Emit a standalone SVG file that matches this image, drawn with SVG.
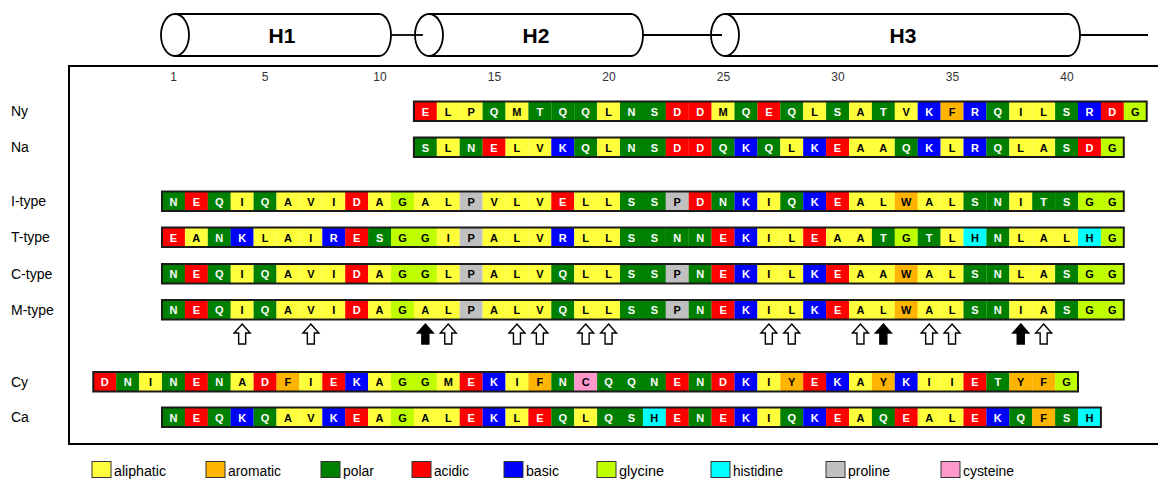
<svg xmlns="http://www.w3.org/2000/svg" xmlns:xlink="http://www.w3.org/1999/xlink" width="1158" height="479" viewBox="0 0 1158 479">
<style>
text{font-family:"Liberation Sans",Arial,sans-serif}
.cells rect{height:19.5px}
.cells text{font-size:11px;font-weight:bold;text-anchor:middle}
.y{fill:#FFFF3C}.o{fill:#FFB400}.g{fill:#008000}.r{fill:#FF0000}.b{fill:#0000FF}.l{fill:#C0FF00}.c{fill:#00FFFF}.p{fill:#C0C0C0}.k{fill:#FF99CC}
.w{fill:#FFFFFF}.d{fill:#000000}
.outline{fill:none;stroke:#1a1a1a;stroke-width:2}
.lab{font-size:14px;fill:#000}
.num{font-size:12px;fill:#333;text-anchor:middle}
.hx{fill:#fff;stroke:#000;stroke-width:1.8}
.hl{font-size:21px;font-weight:bold;text-anchor:middle}
.conn{stroke:#000;stroke-width:1.8;fill:none}
.ao{fill:#fff;stroke:#000;stroke-width:1.4}
.af{fill:#000;stroke:#000;stroke-width:1.4}
.sw{stroke:#333;stroke-width:1}
.lg{font-size:14px;fill:#000}
</style>
<defs>
<path id="arr" d="M0,0 L8,9 L3.5,9 L3.5,20 L-3.5,20 L-3.5,9 L-8,9 Z"/>
</defs>
<rect width="1158" height="479" fill="#fff"/>

<g id="frame"><path d="M1158,66 H69 V444 H1158" fill="none" stroke="#000" stroke-width="2"/></g>

<g id="connectors">
<line class="conn" x1="391" y1="35" x2="423" y2="35"/>
<line class="conn" x1="643" y1="35" x2="722" y2="35"/>
<line class="conn" x1="1080" y1="35" x2="1148" y2="35"/>
</g>

<g id="helix-H1">
<path class="hx" d="M175,14 H379 A12,21 0 0 1 379,56 H175"/>
<ellipse class="hx" cx="175" cy="35" rx="14" ry="21"/>
<text class="hl" x="282" y="43">H1</text>
</g>
<g id="helix-H2">
<path class="hx" d="M429,14 H631 A12,21 0 0 1 631,56 H429"/>
<ellipse class="hx" cx="429" cy="35" rx="14" ry="21" fill-opacity="0"/>
<text class="hl" x="536" y="43">H2</text>
</g>
<g id="helix-H3">
<path class="hx" d="M725,14 H1068 A12,21 0 0 1 1068,56 H725"/>
<ellipse class="hx" cx="725" cy="35" rx="14" ry="21" fill-opacity="0"/>
<text class="hl" x="903" y="43">H3</text>
</g>

<g id="positions">
<text class="num" x="173.5" y="81">1</text>
<text class="num" x="265" y="81">5</text>
<text class="num" x="380" y="81">10</text>
<text class="num" x="494.5" y="81">15</text>
<text class="num" x="609" y="81">20</text>
<text class="num" x="723.5" y="81">25</text>
<text class="num" x="838" y="81">30</text>
<text class="num" x="952.5" y="81">35</text>
<text class="num" x="1067" y="81">40</text>
</g>

<g id="row-Ny">
<text class="lab" x="11" y="116">Ny</text>
<g class="cells" transform="translate(413.9,101.5)">
<rect x="0" width="23" class="r"/><rect x="22.9" width="23" class="y"/><rect x="45.8" width="23" class="y"/><rect x="68.7" width="23" class="g"/><rect x="91.6" width="23" class="y"/><rect x="114.5" width="23" class="g"/><rect x="137.4" width="23" class="g"/><rect x="160.3" width="23" class="g"/><rect x="183.2" width="23" class="y"/><rect x="206.1" width="23" class="g"/><rect x="229" width="23" class="g"/><rect x="251.9" width="23" class="r"/><rect x="274.8" width="23" class="r"/><rect x="297.7" width="23" class="y"/><rect x="320.6" width="23" class="g"/><rect x="343.5" width="23" class="r"/><rect x="366.4" width="23" class="g"/><rect x="389.3" width="23" class="y"/><rect x="412.2" width="23" class="g"/><rect x="435.1" width="23" class="y"/><rect x="458" width="23" class="g"/><rect x="480.9" width="23" class="y"/><rect x="503.8" width="23" class="b"/><rect x="526.7" width="23" class="o"/><rect x="549.6" width="23" class="b"/><rect x="572.5" width="23" class="g"/><rect x="595.4" width="23" class="y"/><rect x="618.3" width="23" class="y"/><rect x="641.2" width="23" class="g"/><rect x="664.1" width="23" class="b"/><rect x="687" width="23" class="r"/><rect x="709.9" width="22.9" class="l"/>
<text x="11.45" y="14" class="w">E</text><text x="34.35" y="14" class="d">L</text><text x="57.25" y="14" class="d">P</text><text x="80.15" y="14" class="w">Q</text><text x="103.05" y="14" class="d">M</text><text x="125.95" y="14" class="w">T</text><text x="148.85" y="14" class="w">Q</text><text x="171.75" y="14" class="w">Q</text><text x="194.65" y="14" class="d">L</text><text x="217.55" y="14" class="w">N</text><text x="240.45" y="14" class="w">S</text><text x="263.35" y="14" class="w">D</text><text x="286.25" y="14" class="w">D</text><text x="309.15" y="14" class="d">M</text><text x="332.05" y="14" class="w">Q</text><text x="354.95" y="14" class="w">E</text><text x="377.85" y="14" class="w">Q</text><text x="400.75" y="14" class="d">L</text><text x="423.65" y="14" class="w">S</text><text x="446.55" y="14" class="d">A</text><text x="469.45" y="14" class="w">T</text><text x="492.35" y="14" class="d">V</text><text x="515.25" y="14" class="w">K</text><text x="538.15" y="14" class="d">F</text><text x="561.05" y="14" class="w">R</text><text x="583.95" y="14" class="w">Q</text><text x="606.85" y="14" class="d">I</text><text x="629.75" y="14" class="d">L</text><text x="652.65" y="14" class="w">S</text><text x="675.55" y="14" class="w">R</text><text x="698.45" y="14" class="w">D</text><text x="721.35" y="14" class="d">G</text>
<rect class="outline" x="0" y="0" width="732.8" height="19.5"/>
</g>
</g>

<g id="row-Na">
<text class="lab" x="11" y="152">Na</text>
<g class="cells" transform="translate(413.9,137.5)">
<rect x="0" width="23" class="g"/><rect x="22.9" width="23" class="y"/><rect x="45.8" width="23" class="g"/><rect x="68.7" width="23" class="r"/><rect x="91.6" width="23" class="y"/><rect x="114.5" width="23" class="y"/><rect x="137.4" width="23" class="b"/><rect x="160.3" width="23" class="g"/><rect x="183.2" width="23" class="y"/><rect x="206.1" width="23" class="g"/><rect x="229" width="23" class="g"/><rect x="251.9" width="23" class="r"/><rect x="274.8" width="23" class="r"/><rect x="297.7" width="23" class="g"/><rect x="320.6" width="23" class="b"/><rect x="343.5" width="23" class="g"/><rect x="366.4" width="23" class="y"/><rect x="389.3" width="23" class="b"/><rect x="412.2" width="23" class="r"/><rect x="435.1" width="23" class="y"/><rect x="458" width="23" class="y"/><rect x="480.9" width="23" class="g"/><rect x="503.8" width="23" class="b"/><rect x="526.7" width="23" class="y"/><rect x="549.6" width="23" class="b"/><rect x="572.5" width="23" class="g"/><rect x="595.4" width="23" class="y"/><rect x="618.3" width="23" class="y"/><rect x="641.2" width="23" class="g"/><rect x="664.1" width="23" class="r"/><rect x="687" width="22.9" class="l"/>
<text x="11.45" y="14" class="w">S</text><text x="34.35" y="14" class="d">L</text><text x="57.25" y="14" class="w">N</text><text x="80.15" y="14" class="w">E</text><text x="103.05" y="14" class="d">L</text><text x="125.95" y="14" class="d">V</text><text x="148.85" y="14" class="w">K</text><text x="171.75" y="14" class="w">Q</text><text x="194.65" y="14" class="d">L</text><text x="217.55" y="14" class="w">N</text><text x="240.45" y="14" class="w">S</text><text x="263.35" y="14" class="w">D</text><text x="286.25" y="14" class="w">D</text><text x="309.15" y="14" class="w">Q</text><text x="332.05" y="14" class="w">K</text><text x="354.95" y="14" class="w">Q</text><text x="377.85" y="14" class="d">L</text><text x="400.75" y="14" class="w">K</text><text x="423.65" y="14" class="w">E</text><text x="446.55" y="14" class="d">A</text><text x="469.45" y="14" class="d">A</text><text x="492.35" y="14" class="w">Q</text><text x="515.25" y="14" class="w">K</text><text x="538.15" y="14" class="d">L</text><text x="561.05" y="14" class="w">R</text><text x="583.95" y="14" class="w">Q</text><text x="606.85" y="14" class="d">L</text><text x="629.75" y="14" class="d">A</text><text x="652.65" y="14" class="w">S</text><text x="675.55" y="14" class="w">D</text><text x="698.45" y="14" class="d">G</text>
<rect class="outline" x="0" y="0" width="709.9" height="19.5"/>
</g>
</g>

<g id="row-I-type">
<text class="lab" x="11" y="206">I-type</text>
<g class="cells" transform="translate(162,191.5)">
<rect x="0" width="23" class="g"/><rect x="22.9" width="23" class="r"/><rect x="45.8" width="23" class="g"/><rect x="68.7" width="23" class="y"/><rect x="91.6" width="23" class="g"/><rect x="114.5" width="23" class="y"/><rect x="137.4" width="23" class="y"/><rect x="160.3" width="23" class="y"/><rect x="183.2" width="23" class="r"/><rect x="206.1" width="23" class="y"/><rect x="229" width="23" class="l"/><rect x="251.9" width="23" class="y"/><rect x="274.8" width="23" class="y"/><rect x="297.7" width="23" class="p"/><rect x="320.6" width="23" class="y"/><rect x="343.5" width="23" class="y"/><rect x="366.4" width="23" class="y"/><rect x="389.3" width="23" class="r"/><rect x="412.2" width="23" class="y"/><rect x="435.1" width="23" class="y"/><rect x="458" width="23" class="g"/><rect x="480.9" width="23" class="g"/><rect x="503.8" width="23" class="p"/><rect x="526.7" width="23" class="r"/><rect x="549.6" width="23" class="g"/><rect x="572.5" width="23" class="b"/><rect x="595.4" width="23" class="y"/><rect x="618.3" width="23" class="g"/><rect x="641.2" width="23" class="b"/><rect x="664.1" width="23" class="r"/><rect x="687" width="23" class="y"/><rect x="709.9" width="23" class="y"/><rect x="732.8" width="23" class="o"/><rect x="755.7" width="23" class="y"/><rect x="778.6" width="23" class="y"/><rect x="801.5" width="23" class="g"/><rect x="824.4" width="23" class="g"/><rect x="847.3" width="23" class="y"/><rect x="870.2" width="23" class="g"/><rect x="893.1" width="23" class="g"/><rect x="916" width="23" class="l"/><rect x="938.9" width="22.9" class="l"/>
<text x="11.45" y="14" class="w">N</text><text x="34.35" y="14" class="w">E</text><text x="57.25" y="14" class="w">Q</text><text x="80.15" y="14" class="d">I</text><text x="103.05" y="14" class="w">Q</text><text x="125.95" y="14" class="d">A</text><text x="148.85" y="14" class="d">V</text><text x="171.75" y="14" class="d">I</text><text x="194.65" y="14" class="w">D</text><text x="217.55" y="14" class="d">A</text><text x="240.45" y="14" class="d">G</text><text x="263.35" y="14" class="d">A</text><text x="286.25" y="14" class="d">L</text><text x="309.15" y="14" class="d">P</text><text x="332.05" y="14" class="d">V</text><text x="354.95" y="14" class="d">L</text><text x="377.85" y="14" class="d">V</text><text x="400.75" y="14" class="w">E</text><text x="423.65" y="14" class="d">L</text><text x="446.55" y="14" class="d">L</text><text x="469.45" y="14" class="w">S</text><text x="492.35" y="14" class="w">S</text><text x="515.25" y="14" class="d">P</text><text x="538.15" y="14" class="w">D</text><text x="561.05" y="14" class="w">N</text><text x="583.95" y="14" class="w">K</text><text x="606.85" y="14" class="d">I</text><text x="629.75" y="14" class="w">Q</text><text x="652.65" y="14" class="w">K</text><text x="675.55" y="14" class="w">E</text><text x="698.45" y="14" class="d">A</text><text x="721.35" y="14" class="d">L</text><text x="744.25" y="14" class="d">W</text><text x="767.15" y="14" class="d">A</text><text x="790.05" y="14" class="d">L</text><text x="812.95" y="14" class="w">S</text><text x="835.85" y="14" class="w">N</text><text x="858.75" y="14" class="d">I</text><text x="881.65" y="14" class="w">T</text><text x="904.55" y="14" class="w">S</text><text x="927.45" y="14" class="d">G</text><text x="950.35" y="14" class="d">G</text>
<rect class="outline" x="0" y="0" width="961.8" height="19.5"/>
</g>
</g>

<g id="row-T-type">
<text class="lab" x="11" y="242">T-type</text>
<g class="cells" transform="translate(162,227.5)">
<rect x="0" width="23" class="r"/><rect x="22.9" width="23" class="y"/><rect x="45.8" width="23" class="g"/><rect x="68.7" width="23" class="b"/><rect x="91.6" width="23" class="y"/><rect x="114.5" width="23" class="y"/><rect x="137.4" width="23" class="y"/><rect x="160.3" width="23" class="b"/><rect x="183.2" width="23" class="r"/><rect x="206.1" width="23" class="g"/><rect x="229" width="23" class="l"/><rect x="251.9" width="23" class="l"/><rect x="274.8" width="23" class="y"/><rect x="297.7" width="23" class="p"/><rect x="320.6" width="23" class="y"/><rect x="343.5" width="23" class="y"/><rect x="366.4" width="23" class="y"/><rect x="389.3" width="23" class="b"/><rect x="412.2" width="23" class="y"/><rect x="435.1" width="23" class="y"/><rect x="458" width="23" class="g"/><rect x="480.9" width="23" class="g"/><rect x="503.8" width="23" class="g"/><rect x="526.7" width="23" class="g"/><rect x="549.6" width="23" class="r"/><rect x="572.5" width="23" class="b"/><rect x="595.4" width="23" class="y"/><rect x="618.3" width="23" class="y"/><rect x="641.2" width="23" class="r"/><rect x="664.1" width="23" class="y"/><rect x="687" width="23" class="y"/><rect x="709.9" width="23" class="g"/><rect x="732.8" width="23" class="l"/><rect x="755.7" width="23" class="g"/><rect x="778.6" width="23" class="y"/><rect x="801.5" width="23" class="c"/><rect x="824.4" width="23" class="g"/><rect x="847.3" width="23" class="y"/><rect x="870.2" width="23" class="y"/><rect x="893.1" width="23" class="y"/><rect x="916" width="23" class="c"/><rect x="938.9" width="22.9" class="l"/>
<text x="11.45" y="14" class="w">E</text><text x="34.35" y="14" class="d">A</text><text x="57.25" y="14" class="w">N</text><text x="80.15" y="14" class="w">K</text><text x="103.05" y="14" class="d">L</text><text x="125.95" y="14" class="d">A</text><text x="148.85" y="14" class="d">I</text><text x="171.75" y="14" class="w">R</text><text x="194.65" y="14" class="w">E</text><text x="217.55" y="14" class="w">S</text><text x="240.45" y="14" class="d">G</text><text x="263.35" y="14" class="d">G</text><text x="286.25" y="14" class="d">I</text><text x="309.15" y="14" class="d">P</text><text x="332.05" y="14" class="d">A</text><text x="354.95" y="14" class="d">L</text><text x="377.85" y="14" class="d">V</text><text x="400.75" y="14" class="w">R</text><text x="423.65" y="14" class="d">L</text><text x="446.55" y="14" class="d">L</text><text x="469.45" y="14" class="w">S</text><text x="492.35" y="14" class="w">S</text><text x="515.25" y="14" class="w">N</text><text x="538.15" y="14" class="w">N</text><text x="561.05" y="14" class="w">E</text><text x="583.95" y="14" class="w">K</text><text x="606.85" y="14" class="d">I</text><text x="629.75" y="14" class="d">L</text><text x="652.65" y="14" class="w">E</text><text x="675.55" y="14" class="d">A</text><text x="698.45" y="14" class="d">A</text><text x="721.35" y="14" class="w">T</text><text x="744.25" y="14" class="d">G</text><text x="767.15" y="14" class="w">T</text><text x="790.05" y="14" class="d">L</text><text x="812.95" y="14" class="d">H</text><text x="835.85" y="14" class="w">N</text><text x="858.75" y="14" class="d">L</text><text x="881.65" y="14" class="d">A</text><text x="904.55" y="14" class="d">L</text><text x="927.45" y="14" class="d">H</text><text x="950.35" y="14" class="d">G</text>
<rect class="outline" x="0" y="0" width="961.8" height="19.5"/>
</g>
</g>

<g id="row-C-type">
<text class="lab" x="11" y="278.5">C-type</text>
<g class="cells" transform="translate(162,264)">
<rect x="0" width="23" class="g"/><rect x="22.9" width="23" class="r"/><rect x="45.8" width="23" class="g"/><rect x="68.7" width="23" class="y"/><rect x="91.6" width="23" class="g"/><rect x="114.5" width="23" class="y"/><rect x="137.4" width="23" class="y"/><rect x="160.3" width="23" class="y"/><rect x="183.2" width="23" class="r"/><rect x="206.1" width="23" class="y"/><rect x="229" width="23" class="l"/><rect x="251.9" width="23" class="l"/><rect x="274.8" width="23" class="y"/><rect x="297.7" width="23" class="p"/><rect x="320.6" width="23" class="y"/><rect x="343.5" width="23" class="y"/><rect x="366.4" width="23" class="y"/><rect x="389.3" width="23" class="g"/><rect x="412.2" width="23" class="y"/><rect x="435.1" width="23" class="y"/><rect x="458" width="23" class="g"/><rect x="480.9" width="23" class="g"/><rect x="503.8" width="23" class="p"/><rect x="526.7" width="23" class="g"/><rect x="549.6" width="23" class="r"/><rect x="572.5" width="23" class="b"/><rect x="595.4" width="23" class="y"/><rect x="618.3" width="23" class="y"/><rect x="641.2" width="23" class="b"/><rect x="664.1" width="23" class="r"/><rect x="687" width="23" class="y"/><rect x="709.9" width="23" class="y"/><rect x="732.8" width="23" class="o"/><rect x="755.7" width="23" class="y"/><rect x="778.6" width="23" class="y"/><rect x="801.5" width="23" class="g"/><rect x="824.4" width="23" class="g"/><rect x="847.3" width="23" class="y"/><rect x="870.2" width="23" class="y"/><rect x="893.1" width="23" class="g"/><rect x="916" width="23" class="l"/><rect x="938.9" width="22.9" class="l"/>
<text x="11.45" y="14" class="w">N</text><text x="34.35" y="14" class="w">E</text><text x="57.25" y="14" class="w">Q</text><text x="80.15" y="14" class="d">I</text><text x="103.05" y="14" class="w">Q</text><text x="125.95" y="14" class="d">A</text><text x="148.85" y="14" class="d">V</text><text x="171.75" y="14" class="d">I</text><text x="194.65" y="14" class="w">D</text><text x="217.55" y="14" class="d">A</text><text x="240.45" y="14" class="d">G</text><text x="263.35" y="14" class="d">G</text><text x="286.25" y="14" class="d">L</text><text x="309.15" y="14" class="d">P</text><text x="332.05" y="14" class="d">A</text><text x="354.95" y="14" class="d">L</text><text x="377.85" y="14" class="d">V</text><text x="400.75" y="14" class="w">Q</text><text x="423.65" y="14" class="d">L</text><text x="446.55" y="14" class="d">L</text><text x="469.45" y="14" class="w">S</text><text x="492.35" y="14" class="w">S</text><text x="515.25" y="14" class="d">P</text><text x="538.15" y="14" class="w">N</text><text x="561.05" y="14" class="w">E</text><text x="583.95" y="14" class="w">K</text><text x="606.85" y="14" class="d">I</text><text x="629.75" y="14" class="d">L</text><text x="652.65" y="14" class="w">K</text><text x="675.55" y="14" class="w">E</text><text x="698.45" y="14" class="d">A</text><text x="721.35" y="14" class="d">A</text><text x="744.25" y="14" class="d">W</text><text x="767.15" y="14" class="d">A</text><text x="790.05" y="14" class="d">L</text><text x="812.95" y="14" class="w">S</text><text x="835.85" y="14" class="w">N</text><text x="858.75" y="14" class="d">L</text><text x="881.65" y="14" class="d">A</text><text x="904.55" y="14" class="w">S</text><text x="927.45" y="14" class="d">G</text><text x="950.35" y="14" class="d">G</text>
<rect class="outline" x="0" y="0" width="961.8" height="19.5"/>
</g>
</g>

<g id="row-M-type">
<text class="lab" x="11" y="314.5">M-type</text>
<g class="cells" transform="translate(162,300)">
<rect x="0" width="23" class="g"/><rect x="22.9" width="23" class="r"/><rect x="45.8" width="23" class="g"/><rect x="68.7" width="23" class="y"/><rect x="91.6" width="23" class="g"/><rect x="114.5" width="23" class="y"/><rect x="137.4" width="23" class="y"/><rect x="160.3" width="23" class="y"/><rect x="183.2" width="23" class="r"/><rect x="206.1" width="23" class="y"/><rect x="229" width="23" class="l"/><rect x="251.9" width="23" class="y"/><rect x="274.8" width="23" class="y"/><rect x="297.7" width="23" class="p"/><rect x="320.6" width="23" class="y"/><rect x="343.5" width="23" class="y"/><rect x="366.4" width="23" class="y"/><rect x="389.3" width="23" class="g"/><rect x="412.2" width="23" class="y"/><rect x="435.1" width="23" class="y"/><rect x="458" width="23" class="g"/><rect x="480.9" width="23" class="g"/><rect x="503.8" width="23" class="p"/><rect x="526.7" width="23" class="g"/><rect x="549.6" width="23" class="r"/><rect x="572.5" width="23" class="b"/><rect x="595.4" width="23" class="y"/><rect x="618.3" width="23" class="y"/><rect x="641.2" width="23" class="b"/><rect x="664.1" width="23" class="r"/><rect x="687" width="23" class="y"/><rect x="709.9" width="23" class="y"/><rect x="732.8" width="23" class="o"/><rect x="755.7" width="23" class="y"/><rect x="778.6" width="23" class="y"/><rect x="801.5" width="23" class="g"/><rect x="824.4" width="23" class="g"/><rect x="847.3" width="23" class="y"/><rect x="870.2" width="23" class="y"/><rect x="893.1" width="23" class="g"/><rect x="916" width="23" class="l"/><rect x="938.9" width="22.9" class="l"/>
<text x="11.45" y="14" class="w">N</text><text x="34.35" y="14" class="w">E</text><text x="57.25" y="14" class="w">Q</text><text x="80.15" y="14" class="d">I</text><text x="103.05" y="14" class="w">Q</text><text x="125.95" y="14" class="d">A</text><text x="148.85" y="14" class="d">V</text><text x="171.75" y="14" class="d">I</text><text x="194.65" y="14" class="w">D</text><text x="217.55" y="14" class="d">A</text><text x="240.45" y="14" class="d">G</text><text x="263.35" y="14" class="d">A</text><text x="286.25" y="14" class="d">L</text><text x="309.15" y="14" class="d">P</text><text x="332.05" y="14" class="d">A</text><text x="354.95" y="14" class="d">L</text><text x="377.85" y="14" class="d">V</text><text x="400.75" y="14" class="w">Q</text><text x="423.65" y="14" class="d">L</text><text x="446.55" y="14" class="d">L</text><text x="469.45" y="14" class="w">S</text><text x="492.35" y="14" class="w">S</text><text x="515.25" y="14" class="d">P</text><text x="538.15" y="14" class="w">N</text><text x="561.05" y="14" class="w">E</text><text x="583.95" y="14" class="w">K</text><text x="606.85" y="14" class="d">I</text><text x="629.75" y="14" class="d">L</text><text x="652.65" y="14" class="w">K</text><text x="675.55" y="14" class="w">E</text><text x="698.45" y="14" class="d">A</text><text x="721.35" y="14" class="d">L</text><text x="744.25" y="14" class="d">W</text><text x="767.15" y="14" class="d">A</text><text x="790.05" y="14" class="d">L</text><text x="812.95" y="14" class="w">S</text><text x="835.85" y="14" class="w">N</text><text x="858.75" y="14" class="d">I</text><text x="881.65" y="14" class="d">A</text><text x="904.55" y="14" class="w">S</text><text x="927.45" y="14" class="d">G</text><text x="950.35" y="14" class="d">G</text>
<rect class="outline" x="0" y="0" width="961.8" height="19.5"/>
</g>
</g>

<g id="arrows">
<use xlink:href="#arr" class="ao" x="242.15" y="324"/>
<use xlink:href="#arr" class="ao" x="310.85" y="324"/>
<use xlink:href="#arr" class="af" x="425.35" y="324"/>
<use xlink:href="#arr" class="ao" x="448.25" y="324"/>
<use xlink:href="#arr" class="ao" x="516.95" y="324"/>
<use xlink:href="#arr" class="ao" x="539.85" y="324"/>
<use xlink:href="#arr" class="ao" x="585.65" y="324"/>
<use xlink:href="#arr" class="ao" x="608.55" y="324"/>
<use xlink:href="#arr" class="ao" x="768.85" y="324"/>
<use xlink:href="#arr" class="ao" x="791.75" y="324"/>
<use xlink:href="#arr" class="ao" x="860.45" y="324"/>
<use xlink:href="#arr" class="af" x="883.35" y="324"/>
<use xlink:href="#arr" class="ao" x="929.15" y="324"/>
<use xlink:href="#arr" class="ao" x="952.05" y="324"/>
<use xlink:href="#arr" class="af" x="1020.75" y="324"/>
<use xlink:href="#arr" class="ao" x="1043.65" y="324"/>
</g>

<g id="row-Cy">
<text class="lab" x="11" y="387">Cy</text>
<g class="cells" transform="translate(93.3,372)">
<rect x="0" width="23" class="r"/><rect x="22.9" width="23" class="g"/><rect x="45.8" width="23" class="y"/><rect x="68.7" width="23" class="g"/><rect x="91.6" width="23" class="r"/><rect x="114.5" width="23" class="g"/><rect x="137.4" width="23" class="y"/><rect x="160.3" width="23" class="r"/><rect x="183.2" width="23" class="o"/><rect x="206.1" width="23" class="y"/><rect x="229" width="23" class="r"/><rect x="251.9" width="23" class="b"/><rect x="274.8" width="23" class="y"/><rect x="297.7" width="23" class="l"/><rect x="320.6" width="23" class="l"/><rect x="343.5" width="23" class="y"/><rect x="366.4" width="23" class="r"/><rect x="389.3" width="23" class="b"/><rect x="412.2" width="23" class="y"/><rect x="435.1" width="23" class="o"/><rect x="458" width="23" class="g"/><rect x="480.9" width="23" class="k"/><rect x="503.8" width="23" class="g"/><rect x="526.7" width="23" class="g"/><rect x="549.6" width="23" class="g"/><rect x="572.5" width="23" class="r"/><rect x="595.4" width="23" class="g"/><rect x="618.3" width="23" class="r"/><rect x="641.2" width="23" class="b"/><rect x="664.1" width="23" class="y"/><rect x="687" width="23" class="o"/><rect x="709.9" width="23" class="r"/><rect x="732.8" width="23" class="b"/><rect x="755.7" width="23" class="y"/><rect x="778.6" width="23" class="o"/><rect x="801.5" width="23" class="b"/><rect x="824.4" width="23" class="y"/><rect x="847.3" width="23" class="y"/><rect x="870.2" width="23" class="r"/><rect x="893.1" width="23" class="g"/><rect x="916" width="23" class="o"/><rect x="938.9" width="23" class="o"/><rect x="961.8" width="22.9" class="l"/>
<text x="11.45" y="14" class="w">D</text><text x="34.35" y="14" class="w">N</text><text x="57.25" y="14" class="d">I</text><text x="80.15" y="14" class="w">N</text><text x="103.05" y="14" class="w">E</text><text x="125.95" y="14" class="w">N</text><text x="148.85" y="14" class="d">A</text><text x="171.75" y="14" class="w">D</text><text x="194.65" y="14" class="d">F</text><text x="217.55" y="14" class="d">I</text><text x="240.45" y="14" class="w">E</text><text x="263.35" y="14" class="w">K</text><text x="286.25" y="14" class="d">A</text><text x="309.15" y="14" class="d">G</text><text x="332.05" y="14" class="d">G</text><text x="354.95" y="14" class="d">M</text><text x="377.85" y="14" class="w">E</text><text x="400.75" y="14" class="w">K</text><text x="423.65" y="14" class="d">I</text><text x="446.55" y="14" class="d">F</text><text x="469.45" y="14" class="w">N</text><text x="492.35" y="14" class="d">C</text><text x="515.25" y="14" class="w">Q</text><text x="538.15" y="14" class="w">Q</text><text x="561.05" y="14" class="w">N</text><text x="583.95" y="14" class="w">E</text><text x="606.85" y="14" class="w">N</text><text x="629.75" y="14" class="w">D</text><text x="652.65" y="14" class="w">K</text><text x="675.55" y="14" class="d">I</text><text x="698.45" y="14" class="d">Y</text><text x="721.35" y="14" class="w">E</text><text x="744.25" y="14" class="w">K</text><text x="767.15" y="14" class="d">A</text><text x="790.05" y="14" class="d">Y</text><text x="812.95" y="14" class="w">K</text><text x="835.85" y="14" class="d">I</text><text x="858.75" y="14" class="d">I</text><text x="881.65" y="14" class="w">E</text><text x="904.55" y="14" class="w">T</text><text x="927.45" y="14" class="d">Y</text><text x="950.35" y="14" class="d">F</text><text x="973.25" y="14" class="d">G</text>
<rect class="outline" x="0" y="0" width="984.7" height="19.5"/>
</g>
</g>

<g id="row-Ca">
<text class="lab" x="11" y="422">Ca</text>
<g class="cells" transform="translate(162,407.5)">
<rect x="0" width="23" class="g"/><rect x="22.9" width="23" class="r"/><rect x="45.8" width="23" class="g"/><rect x="68.7" width="23" class="b"/><rect x="91.6" width="23" class="g"/><rect x="114.5" width="23" class="y"/><rect x="137.4" width="23" class="y"/><rect x="160.3" width="23" class="b"/><rect x="183.2" width="23" class="r"/><rect x="206.1" width="23" class="y"/><rect x="229" width="23" class="l"/><rect x="251.9" width="23" class="y"/><rect x="274.8" width="23" class="y"/><rect x="297.7" width="23" class="r"/><rect x="320.6" width="23" class="b"/><rect x="343.5" width="23" class="y"/><rect x="366.4" width="23" class="r"/><rect x="389.3" width="23" class="g"/><rect x="412.2" width="23" class="y"/><rect x="435.1" width="23" class="g"/><rect x="458" width="23" class="g"/><rect x="480.9" width="23" class="c"/><rect x="503.8" width="23" class="r"/><rect x="526.7" width="23" class="g"/><rect x="549.6" width="23" class="r"/><rect x="572.5" width="23" class="b"/><rect x="595.4" width="23" class="y"/><rect x="618.3" width="23" class="g"/><rect x="641.2" width="23" class="b"/><rect x="664.1" width="23" class="r"/><rect x="687" width="23" class="y"/><rect x="709.9" width="23" class="g"/><rect x="732.8" width="23" class="r"/><rect x="755.7" width="23" class="y"/><rect x="778.6" width="23" class="y"/><rect x="801.5" width="23" class="r"/><rect x="824.4" width="23" class="b"/><rect x="847.3" width="23" class="g"/><rect x="870.2" width="23" class="o"/><rect x="893.1" width="23" class="g"/><rect x="916" width="22.9" class="c"/>
<text x="11.45" y="14" class="w">N</text><text x="34.35" y="14" class="w">E</text><text x="57.25" y="14" class="w">Q</text><text x="80.15" y="14" class="w">K</text><text x="103.05" y="14" class="w">Q</text><text x="125.95" y="14" class="d">A</text><text x="148.85" y="14" class="d">V</text><text x="171.75" y="14" class="w">K</text><text x="194.65" y="14" class="w">E</text><text x="217.55" y="14" class="d">A</text><text x="240.45" y="14" class="d">G</text><text x="263.35" y="14" class="d">A</text><text x="286.25" y="14" class="d">L</text><text x="309.15" y="14" class="w">E</text><text x="332.05" y="14" class="w">K</text><text x="354.95" y="14" class="d">L</text><text x="377.85" y="14" class="w">E</text><text x="400.75" y="14" class="w">Q</text><text x="423.65" y="14" class="d">L</text><text x="446.55" y="14" class="w">Q</text><text x="469.45" y="14" class="w">S</text><text x="492.35" y="14" class="d">H</text><text x="515.25" y="14" class="w">E</text><text x="538.15" y="14" class="w">N</text><text x="561.05" y="14" class="w">E</text><text x="583.95" y="14" class="w">K</text><text x="606.85" y="14" class="d">I</text><text x="629.75" y="14" class="w">Q</text><text x="652.65" y="14" class="w">K</text><text x="675.55" y="14" class="w">E</text><text x="698.45" y="14" class="d">A</text><text x="721.35" y="14" class="w">Q</text><text x="744.25" y="14" class="w">E</text><text x="767.15" y="14" class="d">A</text><text x="790.05" y="14" class="d">L</text><text x="812.95" y="14" class="w">E</text><text x="835.85" y="14" class="w">K</text><text x="858.75" y="14" class="w">Q</text><text x="881.65" y="14" class="d">F</text><text x="904.55" y="14" class="w">S</text><text x="927.45" y="14" class="d">H</text>
<rect class="outline" x="0" y="0" width="938.9" height="19.5"/>
</g>
</g>

<g id="legend">
<rect class="sw y" x="92" y="461.5" width="19" height="16"/><text class="lg" x="114" y="476" textLength="52" lengthAdjust="spacingAndGlyphs">aliphatic</text>
<rect class="sw o" x="206" y="461.5" width="19" height="16"/><text class="lg" x="228" y="476" textLength="53" lengthAdjust="spacingAndGlyphs">aromatic</text>
<rect class="sw g" x="321" y="461.5" width="19" height="16"/><text class="lg" x="343" y="476" textLength="31" lengthAdjust="spacingAndGlyphs">polar</text>
<rect class="sw r" x="412" y="461.5" width="19" height="16"/><text class="lg" x="434" y="476" textLength="35" lengthAdjust="spacingAndGlyphs">acidic</text>
<rect class="sw b" x="504" y="461.5" width="19" height="16"/><text class="lg" x="526" y="476" textLength="33" lengthAdjust="spacingAndGlyphs">basic</text>
<rect class="sw l" x="597" y="461.5" width="19" height="16"/><text class="lg" x="619" y="476" textLength="45" lengthAdjust="spacingAndGlyphs">glycine</text>
<rect class="sw c" x="711" y="461.5" width="19" height="16"/><text class="lg" x="733" y="476" textLength="50" lengthAdjust="spacingAndGlyphs">histidine</text>
<rect class="sw p" x="826" y="461.5" width="19" height="16"/><text class="lg" x="848" y="476" textLength="42" lengthAdjust="spacingAndGlyphs">proline</text>
<rect class="sw k" x="941" y="461.5" width="19" height="16"/><text class="lg" x="963" y="476" textLength="51" lengthAdjust="spacingAndGlyphs">cysteine</text>
</g>
</svg>
